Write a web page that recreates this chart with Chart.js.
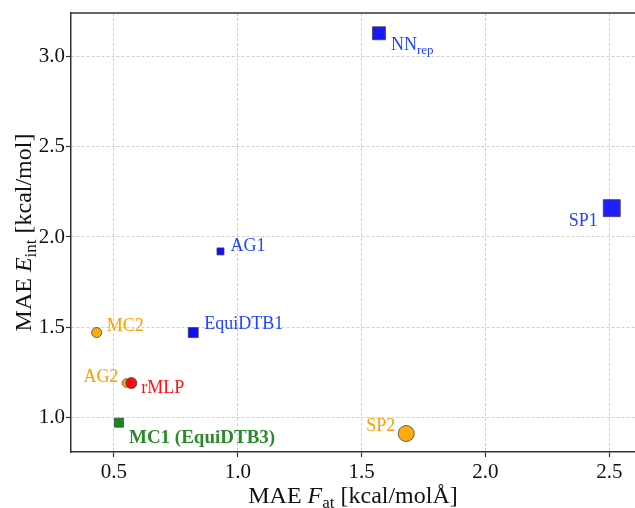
<!DOCTYPE html>
<html>
<head>
<meta charset="utf-8">
<script src="https://cdn.jsdelivr.net/npm/chart.js@4.4.1/dist/chart.umd.min.js"></script>
<style>
html,body{margin:0;padding:0;background:#fff;}
#wrap{width:635px;height:508px;}
</style>
</head>
<body>
<div id="wrap"><canvas id="c" width="635" height="508"></canvas></div>
<script>
// ---- data ----
const models    = ['NN', 'SP1', 'AG1', 'EquiDTB1', 'MC2', 'AG2', 'rMLP', 'MC1 (EquiDTB3)', 'SP2'];
const modelSubs = ['rep', '', '', '', '', '', '', '', ''];
const maeForce  = [1.57, 2.51, 0.93, 0.82, 0.43, 0.55, 0.57, 0.52, 1.68];
const maeEnergy = [3.13, 2.16, 1.92, 1.47, 1.47, 1.19, 1.19, 0.97, 0.91];
const xTicks = [0.5, 1.0, 1.5, 2.0, 2.5];
const yTicks = [1.0, 1.5, 2.0, 2.5, 3.0];

// ---- styles ----
const markerShape = ['rect','rect','rect','rect','circle','circle','circle','rect','circle'];
const markerSize  = [13, 17, 7, 10, 10, 8.5, 11, 9, 16]; // side (rect) or diameter (circle)
const markerFill  = ['rgba(0,0,255,0.9)','rgba(0,0,255,0.88)','rgba(0,0,255,0.95)','rgba(0,0,255,0.95)',
                     'rgba(255,165,0,0.95)','rgba(255,165,0,0.95)','rgba(255,0,0,0.95)','rgba(0,128,0,0.92)','rgba(255,165,0,0.95)'];
const labelColor  = ['#2244ff','#2244ff','#2244ff','#2244ff','#ff9c00','#ff9c00','#ff1010','#2b8a2b','#ff9c00'];
const labelBold   = [false,false,false,false,false,false,false,true,false];
const labelAlign  = ['left','right','left','left','left','right','left','left','right'];
const labelDx     = [12, -14, 10, 11, 10, -8, 10, 10, -11];
const labelDy     = [16.5, 17.5, 0, -3.5, -1.3, -1.3, 10.3, 20.4, -2.3];

const SERIF = '"Liberation Serif", "Times New Roman", serif';

const radii = markerSize.map((s, i) => markerShape[i] === 'rect' ? s / Math.SQRT2 : s / 2);

const labelPlugin = {
  id: 'pointLabels',
  afterDatasetsDraw(chart) {
    const ctx = chart.ctx;
    const meta = chart.getDatasetMeta(0);
    ctx.save();
    meta.data.forEach((pt, i) => {
      const x = pt.x + labelDx[i], y = pt.y + labelDy[i];
      const mainFont = (labelBold[i] ? 'bold 19px ' : '18px ') + SERIF;
      const subFont = '13px ' + SERIF;
      ctx.font = mainFont;
      const w1 = ctx.measureText(models[i]).width;
      ctx.font = subFont;
      const w2 = modelSubs[i] ? ctx.measureText(modelSubs[i]).width : 0;
      const total = w1 + w2;
      let sx = labelAlign[i] === 'right' ? x - total : x;
      ctx.fillStyle = labelColor[i];
      ctx.textAlign = 'left';
      ctx.textBaseline = 'alphabetic';
      ctx.font = mainFont;
      ctx.fillText(models[i], sx, y);
      if (modelSubs[i]) {
        ctx.font = subFont;
        ctx.fillText(modelSubs[i], sx + w1, y + 4);
      }
    });
    ctx.restore();
  }
};

function drawRich(ctx, parts) {
  let total = 0;
  parts.forEach(p => { ctx.font = p.font; p.w = ctx.measureText(p.t).width; total += p.w; });
  let x = -total / 2;
  parts.forEach(p => { ctx.font = p.font; ctx.fillText(p.t, x, p.dy || 0); x += p.w; });
}

const framePlugin = {
  id: 'frame',
  afterDraw(chart) {
    const ctx = chart.ctx, a = chart.chartArea;
    ctx.save();
    ctx.strokeStyle = '#333';
    ctx.lineWidth = 1.5;
    ctx.setLineDash([]);
    ctx.beginPath();
    ctx.moveTo(a.left - 0.75, a.top);
    ctx.lineTo(a.right, a.top);
    ctx.stroke();
    ctx.fillStyle = '#111';
    ctx.textAlign = 'left';
    ctx.textBaseline = 'alphabetic';
    const N = '24px ' + SERIF, I = 'italic 24px ' + SERIF, S = '17px ' + SERIF;
    ctx.save();
    ctx.translate((a.left + a.right) / 2, 503);
    drawRich(ctx, [{t:'MAE ', font:N}, {t:'F', font:I}, {t:'at', font:S, dy:5}, {t:' [kcal/molÅ]', font:N}]);
    ctx.restore();
    ctx.save();
    ctx.translate(31, (a.top + a.bottom) / 2);
    ctx.rotate(-Math.PI / 2);
    drawRich(ctx, [{t:'MAE ', font:N}, {t:'E', font:I}, {t:'int', font:S, dy:5}, {t:' [kcal/mol]', font:N}]);
    ctx.restore();
    ctx.restore();
  }
};

const gridCommon = {
  color: '#c4c4c4',
  lineWidth: 0.8,
  tickColor: '#333',
  tickWidth: 1.2,
  tickLength: 5,
  tickBorderDash: [],
};
const borderCommon = {display: true, color: '#333', width: 1.5, dash: [3, 2]};

new Chart(document.getElementById('c'), {
  type: 'scatter',
  data: {
    datasets: [{
      data: maeForce.map((v, i) => ({x: v, y: maeEnergy[i]})),
      pointStyle: markerShape,
      pointRadius: radii,
      pointHoverRadius: radii,
      backgroundColor: markerFill,
      borderColor: '#444',
      borderWidth: 0.8,
      clip: false,
    }]
  },
  options: {
    responsive: false,
    animation: false,
    events: [],
    layout: {autoPadding: false, padding: {top: 13, left: 0, right: 0, bottom: 0}},
    plugins: {legend: {display: false}, tooltip: {enabled: false}},
    scales: {
      x: {
        type: 'linear',
        min: 0.3264, max: 2.6038,
        afterBuildTicks: s => { s.ticks = xTicks.map(v => ({value: v})); },
        afterFit: s => { s.height = 56; s.paddingLeft = 0; s.paddingRight = 0; },
        grid: gridCommon,
        border: borderCommon,
        ticks: {
          color: '#111', padding: 3,
          font: {family: SERIF, size: 21},
          callback: v => Number(v).toFixed(1),
          maxRotation: 0,
        },
      },
      y: {
        type: 'linear',
        min: 0.8075, max: 3.2424,
        afterBuildTicks: s => { s.ticks = yTicks.map(v => ({value: v})); },
        afterFit: s => { s.width = 71; s.paddingTop = 0; s.paddingBottom = 0; },
        grid: gridCommon,
        border: borderCommon,
        ticks: {
          color: '#111', padding: 1,
          font: {family: SERIF, size: 21},
          callback: v => Number(v).toFixed(1),
        },
      }
    }
  },
  plugins: [labelPlugin, framePlugin]
});
</script>
</body>
</html>
